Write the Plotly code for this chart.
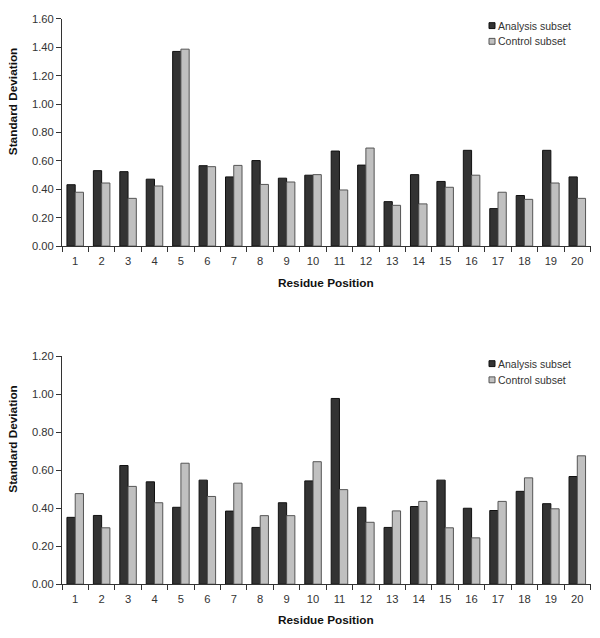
import plotly.graph_objects as go

positions = [str(i) for i in range(1, 21)]

top_analysis = [0.432, 0.531, 0.524, 0.471, 1.370, 0.566, 0.487, 0.602, 0.478, 0.499,
                0.669, 0.570, 0.313, 0.503, 0.455, 0.674, 0.264, 0.356, 0.674, 0.487]
top_control = [0.379, 0.444, 0.336, 0.423, 1.386, 0.559, 0.568, 0.434, 0.451, 0.503,
               0.395, 0.690, 0.287, 0.297, 0.414, 0.499, 0.379, 0.329, 0.444, 0.336]

bot_analysis = [0.352, 0.362, 0.625, 0.539, 0.405, 0.548, 0.385, 0.299, 0.429, 0.544,
                0.978, 0.405, 0.299, 0.409, 0.548, 0.400, 0.388, 0.489, 0.424, 0.567]
bot_control = [0.477, 0.297, 0.515, 0.429, 0.637, 0.462, 0.532, 0.361, 0.361, 0.645,
               0.498, 0.326, 0.386, 0.436, 0.297, 0.244, 0.436, 0.560, 0.397, 0.676]

series_names = ["Analysis subset", "Control subset"]
fill_colors = ["#333333", "#c0c0c0"]
line_colors = ["#111111", "#555555"]

FONT = "Arial, Liberation Sans, sans-serif"
W, H = 600, 638

fig = go.Figure()


def add_pair(vals_a, vals_c, xa, ya):
    for name, vals, fc, lc in zip(series_names, [vals_a, vals_c], fill_colors, line_colors):
        fig.add_trace(go.Bar(
            x=positions, y=vals, name=name, xaxis=xa, yaxis=ya,
            marker=dict(color=fc, line=dict(color=lc, width=1)),
            showlegend=False,
        ))


add_pair(top_analysis, top_control, "x", "y")
add_pair(bot_analysis, bot_control, "x2", "y2")


def py(px):
    return 1 - px / H


def pxx(px):
    return px / W


xdom = [pxx(62), pxx(590.5)]
top_dom = [py(244.7), py(13)]
bot_dom = [py(589.3), py(357)]

axis_common = dict(
    showline=True, linecolor="#333333", linewidth=1,
    ticks="outside", tickcolor="#333333", ticklen=5,
    tickfont=dict(family=FONT, size=11.2, color="#333333"),
    showgrid=False, zeroline=False,
)

fig.update_layout(
    width=W, height=H,
    margin=dict(l=0, r=0, t=0, b=0),
    paper_bgcolor="white", plot_bgcolor="white",
    barmode="group", bargap=0.375, bargroupgap=0,
    font=dict(family=FONT, color="#222222"),
    showlegend=False,
    xaxis=dict(domain=xdom, anchor="y", tickson="boundaries", ticklabelstandoff=4,
               **axis_common),
    yaxis=dict(domain=top_dom, anchor="x", range=[0, 1.6], dtick=0.2,
               tickformat=".2f", **axis_common),
    xaxis2=dict(domain=xdom, anchor="y2", tickson="boundaries", ticklabelstandoff=4,
                **axis_common),
    yaxis2=dict(domain=bot_dom, anchor="x2", range=[0, 1.2], dtick=0.2,
                tickformat=".2f", **axis_common),
)

# axis titles
title_font = dict(family=FONT, size=11.8, color="#111111")
y_titles = [(13, 97), (13, 441)]
x_titles = [(326, 282), (326, 626)]
for (x, y) in y_titles:
    fig.add_annotation(xref="paper", yref="paper", showarrow=False, textangle=-90,
                       xanchor="center", yanchor="middle", font=title_font,
                       text="<b>Standard Deviation</b>", x=pxx(x), y=py(y))
for (x, y) in x_titles:
    fig.add_annotation(xref="paper", yref="paper", showarrow=False,
                       xanchor="center", yanchor="middle", font=title_font,
                       text="<b>Residue Position</b>", x=pxx(x), y=py(y))

# legends (one per panel)
legend_rows = [(20, 36), (364.5, 381)]
legend_font = dict(family=FONT, size=10.5, color="#333333")
for (ya_, yc_) in legend_rows:
    for name, fc, lc, yy in zip(series_names, fill_colors, line_colors, [ya_, yc_]):
        fig.add_shape(type="rect", xref="paper", yref="paper",
                      x0=pxx(489), x1=pxx(495), y0=py(yy + 3), y1=py(yy - 3),
                      fillcolor=fc, line=dict(color=lc, width=1))
        fig.add_annotation(xref="paper", yref="paper", showarrow=False,
                           xanchor="left", yanchor="middle", font=legend_font,
                           text=name, x=pxx(496), y=py(yy))

fig.write_html("out.html", config={"displayModeBar": False},
               post_script="document.body.style.margin='0px';")
